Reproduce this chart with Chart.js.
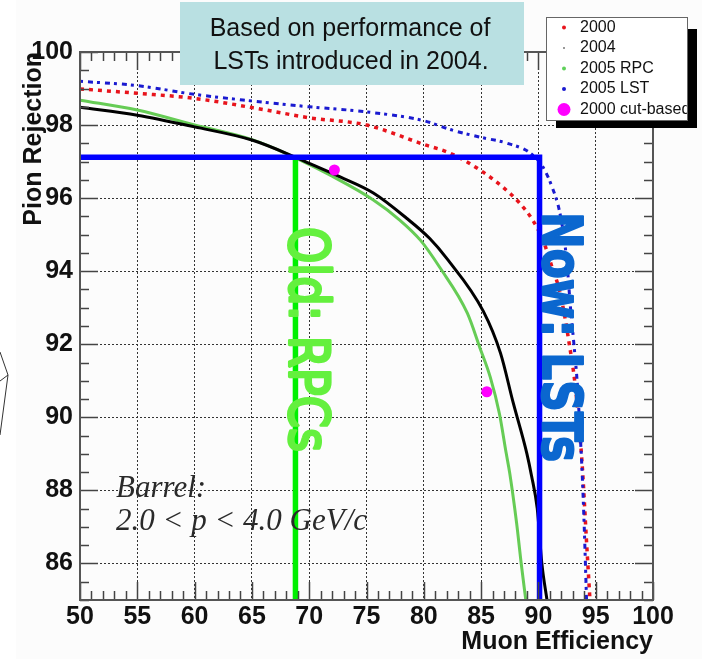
<!DOCTYPE html>
<html>
<head>
<meta charset="utf-8">
<title>Pion rejection vs muon efficiency</title>
<script src="https://cdn.jsdelivr.net/npm/chart.js@4.4.1/dist/chart.umd.min.js"></script>
<style>
  html, body { margin: 0; padding: 0; background: #ffffff; }
  #wrap { position: relative; width: 702px; height: 659px; }
</style>
</head>
<body>
<div id="wrap"><canvas id="rocChart" width="702" height="659"></canvas></div>
<script>
// Axis ticks
const xTicks = [50, 55, 60, 65, 70, 75, 80, 85, 90, 95, 100];
const yTicks = [86, 88, 90, 92, 94, 96, 98, 100];

// 2000 (red dotted)
const eff2000 = [50, 55, 60, 65, 70, 75, 80, 82.3, 84.9, 86.9, 88.4, 89.5, 90.4, 91.2, 91.9, 92.75, 93.2, 93.8, 94.2, 94.5];
const rej2000 = [98.99, 98.87, 98.73, 98.48, 98.2, 98.0, 97.47, 97.23, 96.77, 96.3, 95.85, 95.4, 94.85, 94.1, 93.4, 91.9, 90.9, 88.8, 86.6, 85.0];

// 2004 (black)
const eff2004 = [50, 55, 60, 65, 68.8, 70, 72.7, 75.6, 78.5, 80.5, 82, 85.2, 86.7, 87.8, 89.0, 89.4, 89.9, 90.3, 90.75];
const rej2004 = [98.49, 98.27, 97.95, 97.59, 97.12, 96.95, 96.58, 96.14, 95.45, 94.9, 94.35, 92.9, 91.75, 90.4, 89.0, 88.4, 87.5, 86.0, 85.0];

// 2005 RPC (green)
const eff2005Rpc = [50, 55, 60, 65, 68, 72, 75.6, 77.9, 79.7, 81.4, 83.8, 84.9, 85.8, 86.6, 87.2, 87.5, 88.1, 88.5, 88.9];
const rej2005Rpc = [98.68, 98.41, 98.0, 97.6, 97.22, 96.6, 95.95, 95.4, 94.85, 94.1, 92.85, 91.9, 91.1, 90.1, 89.0, 88.47, 87.1, 86.0, 85.0];

// 2005 LST (blue dash-dot)
const eff2005Lst = [50, 55, 60, 65, 70, 75, 80, 82.5, 84.9, 87.3, 89.3, 90.4, 91.2, 91.8, 92.2, 92.5, 92.8, 93.1, 93.4, 93.6, 93.8, 94.0, 94.2];
const rej2005Lst = [99.2, 99.08, 98.84, 98.66, 98.5, 98.36, 98.12, 97.86, 97.67, 97.5, 97.23, 96.85, 96.3, 95.7, 95.0, 94.2, 93.0, 92.0, 90.9, 89.8, 88.6, 87.0, 85.0];

// 2000 cut-based points
const effCut = [72.2, 85.5];
const rejCut = [96.77, 90.7];

// Working-point lines
const lstLineX = [50, 90.1, 90.1];
const lstLineY = [97.12, 97.12, 85];
const rpcLineX = [68.8, 68.8];
const rpcLineY = [97.12, 85];

const legendLabels = ['2000', '2004', '2005 RPC', '2005 LST', '2000 cut-based'];

const SANS = '"Liberation Sans", Arial, sans-serif';

function toPoints(xs, ys) {
    return xs.map((x, i) => ({ x: x, y: ys[i] }));
}

// Frame, inside ticks, legend and annotations
const decorPlugin = {
    id: 'decor',
    beforeDraw(chart) {
        const ctx = chart.ctx;
        ctx.save();
        ctx.fillStyle = '#fcfcfc';
        ctx.fillRect(16, 0, chart.width - 16, chart.height);
        ctx.restore();
    },
    afterDraw(chart) {
        const ctx = chart.ctx;
        const a = chart.chartArea;
        const xs = chart.scales.x;
        const ys = chart.scales.y;

        ctx.save();
        // ticks on all four sides
        ctx.strokeStyle = '#444';
        ctx.lineWidth = 1.5;
        ctx.beginPath();
        for (let v = 50; v <= 100; v++) {
            const px = Math.round(xs.getPixelForValue(v)) + 0.5;
            const len = v % 5 === 0 ? 18 : 9;
            ctx.moveTo(px, a.bottom); ctx.lineTo(px, a.bottom - len);
            ctx.moveTo(px, a.top); ctx.lineTo(px, a.top + len);
        }
        for (let v = 85; v <= 100; v += 0.5) {
            const py = Math.round(ys.getPixelForValue(v)) + 0.5;
            const len = v % 2 === 0 ? 18 : 9;
            ctx.moveTo(a.left, py); ctx.lineTo(a.left + len, py);
            ctx.moveTo(a.right, py); ctx.lineTo(a.right - len, py);
        }
        ctx.stroke();
        // frame
        ctx.strokeStyle = '#555';
        ctx.lineWidth = 2;
        ctx.strokeRect(a.left, a.top, a.right - a.left, a.bottom - a.top);

        // rotated labels on the cut lines
        drawRotated(ctx, 'Old: RPCs', 290, 227, '44px "DejaVu Sans", sans-serif', '#64f03e', 225, 1.25, 2.5);
        drawRotated(ctx, 'Now: LSTs', 543, 212, 'bold 42px "DejaVu Sans", sans-serif', '#0b67cf', 250, 1.3, 1.5);

        // Barrel text
        ctx.fillStyle = '#2a2a2a';
        ctx.font = 'italic 31px "Liberation Serif", "Times New Roman", serif';
        ctx.textAlign = 'left';
        ctx.textBaseline = 'alphabetic';
        ctx.fillText('Barrel:', 116, 497);
        ctx.fillText('2.0 < p < 4.0 GeV/c', 116, 530);

        // annotation box
        ctx.fillStyle = '#b9e0e2';
        ctx.fillRect(180, 2, 344, 83);
        ctx.fillStyle = '#111';
        ctx.font = '25px ' + SANS;
        ctx.textAlign = 'center';
        ctx.textBaseline = 'middle';
        ctx.fillText('Based on performance of', 350, 29);
        ctx.fillText('LSTs introduced in 2004.', 351, 62);

        // legend with shadow
        ctx.fillStyle = '#000';
        ctx.fillRect(556, 29, 141, 99);
        ctx.fillStyle = '#ffffff';
        ctx.fillRect(546, 17, 142, 104);
        ctx.strokeStyle = '#666';
        ctx.lineWidth = 1;
        ctx.strokeRect(546.5, 17.5, 141, 103);
        const markColors = ['#e8141c', '#777777', '#5fd05a', '#1a1ad0', '#ff00ff'];
        const markSizes = [2, 1, 2, 2, 6.5];
        ctx.save();
        ctx.beginPath();
        ctx.rect(547, 18, 140, 102);
        ctx.clip();
        legendLabels.forEach((label, i) => {
            const cy = 27.5 + i * 20.5;
            ctx.fillStyle = markColors[i];
            ctx.beginPath();
            ctx.arc(564, cy, markSizes[i], 0, Math.PI * 2);
            ctx.fill();
            ctx.fillStyle = '#111';
            ctx.font = '16px ' + SANS;
            ctx.textAlign = 'left';
            ctx.textBaseline = 'middle';
            ctx.fillText(label, 580, cy);
        });
        ctx.restore();

        // stray outline on the left edge
        ctx.strokeStyle = '#333';
        ctx.lineWidth = 1;
        ctx.beginPath();
        ctx.moveTo(0, 352); ctx.lineTo(8, 375); ctx.lineTo(0, 435);
        ctx.moveTo(8, 375); ctx.lineTo(0, 381);
        ctx.stroke();
        ctx.restore();
    }
};

function drawRotated(ctx, text, x, y, font, color, targetLen, stretch, weight) {
    ctx.save();
    ctx.font = font;
    const w = ctx.measureText(text).width;
    ctx.translate(x, y);
    ctx.rotate(Math.PI / 2);
    ctx.scale(targetLen / w, stretch);
    ctx.fillStyle = color;
    ctx.strokeStyle = color;
    ctx.lineWidth = weight;
    ctx.lineJoin = 'round';
    ctx.textAlign = 'left';
    ctx.textBaseline = 'alphabetic';
    ctx.fillText(text, 0, 0);
    ctx.strokeText(text, 0, 0);
    ctx.restore();
}

const ctx = document.getElementById('rocChart').getContext('2d');
const rocChart = new Chart(ctx, {
    type: 'scatter',
    data: {
        datasets: [
            {
                label: '2000 cut-based',
                data: toPoints(effCut, rejCut),
                pointRadius: 5.5,
                pointBackgroundColor: '#ff00ff',
                pointBorderWidth: 0,
                showLine: false
            },
            {
                label: 'LST cut',
                data: toPoints(lstLineX, lstLineY),
                showLine: true,
                borderColor: '#0000ff',
                borderWidth: 5.5,
                pointRadius: 0
            },
            {
                label: 'RPC cut',
                data: toPoints(rpcLineX, rpcLineY),
                showLine: true,
                borderColor: '#00f000',
                borderWidth: 5.5,
                pointRadius: 0
            },
            {
                label: '2005 LST',
                data: toPoints(eff2005Lst, rej2005Lst),
                showLine: true,
                borderColor: '#1a1ad0',
                borderWidth: 3,
                borderDash: [3, 5, 5, 4],
                pointRadius: 0,
                cubicInterpolationMode: 'monotone'
            },
            {
                label: '2000',
                data: toPoints(eff2000, rej2000),
                showLine: true,
                borderColor: '#e8141c',
                borderWidth: 3.5,
                borderDash: [4, 5],
                pointRadius: 0,
                cubicInterpolationMode: 'monotone'
            },
            {
                label: '2004',
                data: toPoints(eff2004, rej2004),
                showLine: true,
                borderColor: '#000000',
                borderWidth: 3,
                pointRadius: 0,
                cubicInterpolationMode: 'monotone'
            },
            {
                label: '2005 RPC',
                data: toPoints(eff2005Rpc, rej2005Rpc),
                showLine: true,
                borderColor: '#66cc55',
                borderWidth: 3,
                pointRadius: 0,
                cubicInterpolationMode: 'monotone'
            }
        ]
    },
    options: {
        responsive: false,
        animation: false,
        layout: {
            padding: { top: 52, right: 49, left: 0, bottom: 0 }
        },
        plugins: {
            legend: { display: false },
            tooltip: { enabled: false }
        },
        scales: {
            x: {
                type: 'linear',
                min: 50,
                max: 100,
                afterBuildTicks: function (scale) {
                    scale.ticks = xTicks.map(v => ({ value: v }));
                },
                afterFit: function (scale) {
                    scale.height = 59;
                },
                ticks: {
                    autoSkip: false,
                    maxRotation: 0,
                    padding: 2,
                    color: '#111',
                    font: { family: SANS, size: 25, weight: 'bold' }
                },
                grid: {
                    drawTicks: false,
                    color: function (c) {
                        return (c.tick && (c.tick.value === 50 || c.tick.value === 100)) ? 'rgba(0,0,0,0)' : '#333';
                    },
                    lineWidth: 1
                },
                border: { display: false, dash: [2, 2] },
                title: {
                    display: true,
                    text: 'Muon Efficiency',
                    align: 'end',
                    color: '#111',
                    font: { family: SANS, size: 25, weight: 'bold', lineHeight: 1.2 },
                    padding: { top: 0, bottom: 2 }
                }
            },
            y: {
                type: 'linear',
                min: 85,
                max: 100,
                afterBuildTicks: function (scale) {
                    scale.ticks = yTicks.map(v => ({ value: v }));
                },
                afterFit: function (scale) {
                    scale.width = 80;
                },
                ticks: {
                    padding: 7,
                    color: '#111',
                    font: { family: SANS, size: 25, weight: 'bold' }
                },
                grid: {
                    drawTicks: false,
                    color: function (c) {
                        return (c.tick && c.tick.value === 100) ? 'rgba(0,0,0,0)' : '#333';
                    },
                    lineWidth: 1
                },
                border: { display: false, dash: [2, 2] },
                title: {
                    display: true,
                    text: 'Pion Rejection',
                    align: 'end',
                    color: '#111',
                    font: { family: SANS, size: 25, weight: 'bold', lineHeight: 1.2 },
                    padding: { top: 19, bottom: 0 }
                }
            }
        }
    },
    plugins: [decorPlugin]
});
</script>
</body>
</html>
